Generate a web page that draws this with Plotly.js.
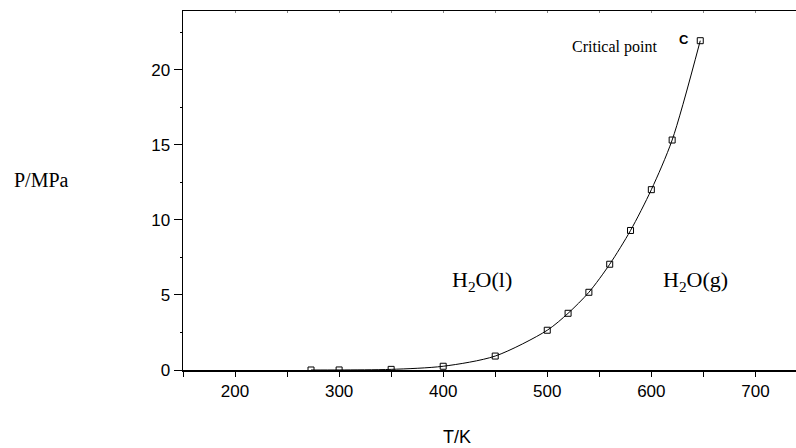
<!DOCTYPE html>
<html>
<head>
<meta charset="utf-8">
<script src="https://cdn.plot.ly/plotly-3.0.1.min.js"></script>
<style>html,body{margin:0;padding:0;background:#fff;}#chart{width:796px;height:448px;}</style>
</head>
<body>
<div id="chart"></div>
<script>
// Temperature (K) and vapour pressure (MPa) of water
const temperatureK = [273, 300, 350, 400, 450, 500, 520, 540, 560, 580, 600, 620, 647];
const pressureMPa = [0.0006, 0.0035, 0.042, 0.25, 0.93, 2.65, 3.78, 5.18, 7.05, 9.3, 12.02, 15.33, 21.95];
const xTicks = [200, 300, 400, 500, 600, 700];
const yTicks = [0, 5, 10, 15, 20];

const serif = "Liberation Serif, Times New Roman, serif";
const sans = "Liberation Sans, Arial, sans-serif";

const traces = [{
  x: temperatureK, y: pressureMPa,
  type: 'scatter', mode: 'lines+markers',
  line: {color: '#000', width: 1, shape: 'spline', smoothing: 0.8},
  marker: {symbol: 'square-open', size: 6, color: '#000', line: {width: 1, color: '#000'}},
  hoverinfo: 'skip'
}, {
  x: [temperatureK[0]], y: [pressureMPa[0]], xaxis: 'x2', type: 'scatter', mode: 'markers',
  marker: {opacity: 0}, hoverinfo: 'skip'
}];

const layout = {
  width: 796, height: 448,
  margin: {l: 183, r: 0, t: 11, b: 78},
  paper_bgcolor: '#fff', plot_bgcolor: '#fff',
  showlegend: false,
  xaxis: {
    range: [150, 739], tickvals: xTicks, ticktext: xTicks.map(String),
    showline: true, linecolor: '#000', linewidth: 1.5,
    ticks: 'outside', ticklen: 5, tickwidth: 1, tickcolor: '#000',
    minor: {dtick: 50, tick0: 0, ticks: 'outside', ticklen: 5, tickcolor: '#000', tickwidth: 1},
    showgrid: false, zeroline: false,
    tickfont: {family: sans, size: 17, color: '#000'},
    ticklabelstandoff: 0
  },
  xaxis2: {
    overlaying: 'x', side: 'top', matches: 'x', range: [150, 739],
    showline: true, linecolor: '#000', linewidth: 1.5,
    ticks: 'inside', ticklen: 2, tickcolor: '#888', dtick: 50, tick0: 0,
    showticklabels: false, showgrid: false, zeroline: false
  },
  yaxis: {
    range: [0, 23.93], tickvals: yTicks, ticktext: yTicks.map(String),
    showline: true, linecolor: '#000', linewidth: 1.5,
    ticks: 'outside', ticklen: 8, tickwidth: 1, tickcolor: '#000',
    minor: {dtick: 2.5, tick0: 0, ticks: 'outside', ticklen: 2, tickcolor: '#000', tickwidth: 1},
    showgrid: false, zeroline: false,
    tickfont: {family: sans, size: 17, color: '#000'},
    ticklabelstandoff: 0
  },
  annotations: [
    {text: 'P/MPa', xref: 'paper', yref: 'paper', x: -0.2316, y: 0.529, xanchor: 'center', yanchor: 'middle',
     showarrow: false, font: {family: serif, size: 20, color: '#000'}},
    {text: 'T/K', xref: 'paper', yref: 'paper', x: 0.447, y: -0.187, xanchor: 'center', yanchor: 'middle',
     showarrow: false, font: {family: sans, size: 18, color: '#000'}},
    {text: 'H<sub>2</sub>O(l)', x: 437.5, y: 5.9, xanchor: 'center', yanchor: 'middle', showarrow: false,
     font: {family: serif, size: 22, color: '#000'}},
    {text: 'H<sub>2</sub>O(g)', x: 642, y: 5.9, xanchor: 'center', yanchor: 'middle', showarrow: false,
     font: {family: serif, size: 22, color: '#000'}},
    {text: 'Critical point', x: 565, y: 21.55, xanchor: 'center', yanchor: 'middle', showarrow: false,
     font: {family: serif, size: 16, color: '#000'}},
    {text: '<b>C</b>', x: 631, y: 22.0, xanchor: 'center', yanchor: 'middle', showarrow: false,
     font: {family: sans, size: 13, color: '#000'}}
  ]
};

Plotly.newPlot('chart', traces, layout, {staticPlot: true, displayModeBar: false});
</script>
</body>
</html>
